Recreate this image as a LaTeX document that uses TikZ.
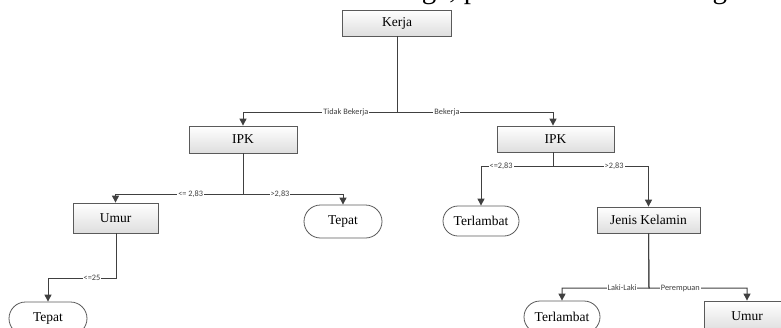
\documentclass[tikz,border=0pt]{standalone}
\usepackage{fontspec}
\setmainfont{Liberation Serif}
\newfontfamily\lblfont{Carlito}
\usetikzlibrary{arrows.meta,shapes.misc}

\definecolor{edgegray}{HTML}{404040}
\definecolor{boxline}{HTML}{5A5A5A}
\definecolor{boxshade}{HTML}{DEDEDE}

\tikzset{
  treebox/.style={draw=boxline, line width=0.8pt, rectangle,
    top color=white, bottom color=boxshade,
    minimum height=26pt, inner sep=0pt, font=\fontsize{13.5}{15}\selectfont},
  leafbox/.style={draw=boxline, line width=0.8pt, rounded rectangle,
    fill=white, minimum height=32pt, inner sep=0pt,
    font=\fontsize{13.5}{15}\selectfont},
  edge/.style={draw=edgegray, line width=1pt,
    -{Triangle[length=7pt,width=7pt]}},
  lbl/.style={fill=white, inner sep=1pt, text=edgegray,
    font=\lblfont\fontsize{8.3}{9}\selectfont}
}

\begin{document}
\begin{tikzpicture}[x=1pt, y=-1pt]
  \useasboundingbox (0,0) rectangle (781,327);
  \clip (0,0) rectangle (781,327);

  % running text line of the page, cut at the top edge
  \node[anchor=base east, inner sep=0pt, font=\fontsize{29}{31}\selectfont]
    (pagetext) at (786,-2) {node with the label “Too Late”. At this stage, produce a tree-like Figure.1};

  % decision nodes
  \node[treebox, minimum width=109pt] (kerja) at (397,23) {Kerja};
  \node[treebox, minimum width=108pt, minimum height=27pt] (ipkL) at (243,139.5) {IPK};
  \node[treebox, minimum width=117pt] (ipkR) at (555.5,139) {IPK};
  \node[treebox, minimum width=85pt, minimum height=30pt] (umurL) at (115.5,218) {Umur};
  \node[treebox, minimum width=103pt] (jenis) at (648.5,220) {Jenis Kelamin};
  \node[treebox, minimum width=86pt, minimum height=30pt] (umurR) at (747,316) {Umur};

  % leaves
  \node[leafbox, minimum width=78pt, minimum height=33pt] (tepatM) at (343,221.5) {Tepat};
  \node[leafbox, minimum width=78pt, minimum height=33pt] (tepatB) at (48,318.5) {Tepat};
  \node[leafbox, minimum width=76pt, minimum height=30pt] (terlM) at (481,221) {Terlambat};
  \node[leafbox, minimum width=76pt] (terlB) at (562,317) {Terlambat};

  % branch junctions
  \coordinate (jk) at (397,112);
  \coordinate (jl) at (243,194);
  \coordinate (ju) at (116,278);
  \coordinate (jr) at (553,166);
  \coordinate (jj) at (649,288);

  % connectors
  \draw[edge] (kerja.south) -- (jk) -| node[lbl, pos=0.166] {Tidak Bekerja} (ipkL.north);
  \draw[edge] (kerja.south) -- (jk) -| node[lbl, pos=0.16] {Bekerja} (ipkR.north -| jr);

  \draw[edge] (ipkL.south) -- (jl) -| node[lbl, pos=0.205] {<= 2,83} (umurL.north);
  \draw[edge] (ipkL.south) -- (jl) -| node[lbl, pos=0.185] {>2,83} (tepatM.north);

  \draw[edge] (umurL.south -| ju) -- (ju) -| node[lbl, pos=0.176] {<=25} (tepatB.north);

  \draw[edge] (ipkR.south -| jr) -- (jr) -| node[lbl, pos=0.36] {<=2,83} (terlM.north);
  \draw[edge] (ipkR.south -| jr) -- (jr) -| node[lbl, pos=0.32] {>2,83} (jenis.north);

  \draw[edge] (jenis.south) -- (jj) -| node[lbl, pos=0.155] {Laki-Laki} (terlB.north);
  \draw[edge] (jenis.south) -- (jj) -| node[lbl, pos=0.16] {Perempuan} (umurR.north);
\end{tikzpicture}
\end{document}
